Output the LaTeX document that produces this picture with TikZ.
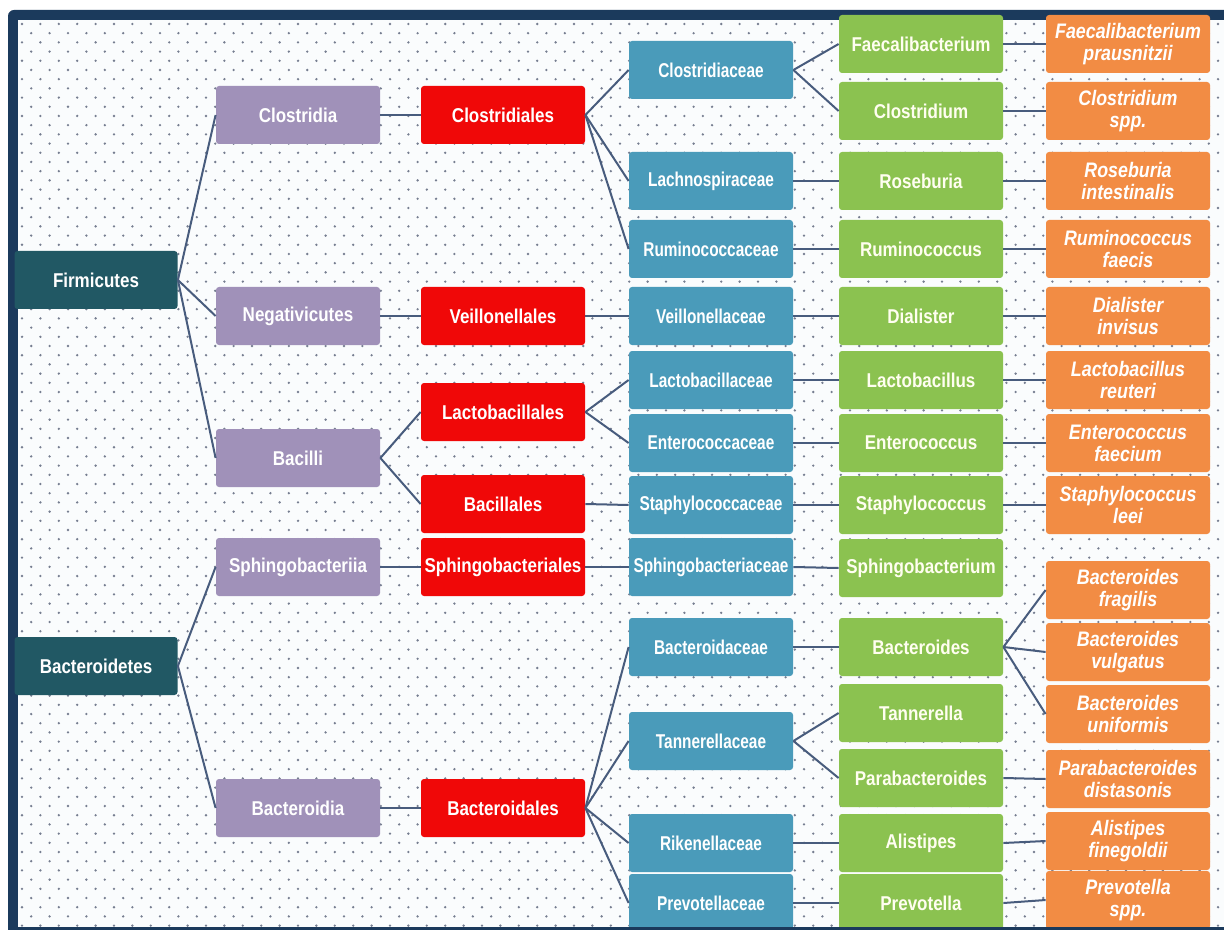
\documentclass[tikz,border=0pt]{standalone}
\usepackage{fontspec}
\newfontfamily\boxfont{Liberation Sans}[FakeStretch=0.85]
\newfontfamily\narrowfont{Liberation Sans}[FakeStretch=0.77]
\definecolor{myframe}{RGB}{27,58,92}
\definecolor{mybg}{RGB}{250,252,253}
\definecolor{mydot}{RGB}{118,126,144}
\definecolor{myline}{RGB}{72,92,125}
\definecolor{myphylum}{RGB}{33,88,100}
\definecolor{myclass}{RGB}{160,145,185}
\definecolor{myorder}{RGB}{240,8,8}
\definecolor{myfamily}{RGB}{74,155,186}
\definecolor{mygenus}{RGB}{139,194,80}
\definecolor{myspecies}{RGB}{242,140,68}

\begin{document}
\begin{tikzpicture}[x=0.5pt, y=-0.5pt,
  taxbox/.style={rounded corners=1.5pt, minimum width=82pt, minimum height=29pt,
    inner sep=1pt, text=white, align=center,
    font=\boxfont\bfseries\fontsize{10}{10.5}\selectfont},
  phylum/.style={taxbox, fill=myphylum, minimum width=81.5pt},
  class/.style={taxbox, fill=myclass},
  order/.style={taxbox, fill=myorder},
  family/.style={taxbox, fill=myfamily,
    font=\narrowfont\bfseries\fontsize{10}{10.5}\selectfont},
  genus/.style={taxbox, fill=mygenus, text=white!94!yellow},
  species/.style={taxbox, fill=myspecies,
    font=\boxfont\bfseries\itshape\fontsize{10.5}{11}\selectfont},
  link/.style={myline, line width=1pt}]

\useasboundingbox (0,0) rectangle (1224,930);
\clip (0,0) rectangle (1224,930);

% frame and dotted background
\fill[white] (0,0) rectangle (1224,930);
\fill[myframe, rounded corners=3pt] (8,10) rectangle (1240,945);
\fill[mybg] (18,20) rectangle (1230,927);
\foreach \j in {0,...,98}{
  \pgfmathsetmacro\dx{mod(\j,2)*9.2}
  \fill[mydot] foreach \i in {0,...,65} {(22+\dx+18.4*\i, 24+9.2*\j) circle (0.65pt)};
}

% phylum
\node[phylum] (firm) at (96,280) {Firmicutes};
\node[phylum] (bactp) at (96,666) {Bacteroidetes};

% class
\node[class] (clos) at (298,115) {Clostridia};
\node[class] (nega) at (298,316) {Negativicutes};
\node[class] (baci) at (298,458) {Bacilli};
\node[class] (sphi) at (298,567) {Sphingobacteriia};
\node[class] (bactc) at (298,808) {Bacteroidia};

% order
\node[order] (closo) at (503,115) {Clostridiales};
\node[order] (veilo) at (503,316) {Veillonellales};
\node[order] (lacto) at (503,412) {Lactobacillales};
\node[order] (bacio) at (503,504) {Bacillales};
\node[order] (sphio) at (503,567) {Sphingobacteriales};
\node[order] (bacto) at (503,808) {Bacteroidales};

% family
\node[family] (closf) at (711,70) {Clostridiaceae};
\node[family] (lachf) at (711,181) {Lachnospiraceae};
\node[family] (rumf) at (711,249) {Ruminococcaceae};
\node[family] (veilf) at (711,316) {Veillonellaceae};
\node[family] (lactf) at (711,380) {Lactobacillaceae};
\node[family] (entf) at (711,443) {Enterococcaceae};
\node[family] (stapf) at (711,505) {Staphylococcaceae};
\node[family] (sphif) at (711,567) {Sphingobacteriaceae};
\node[family] (bactf) at (711,647) {Bacteroidaceae};
\node[family] (tanf) at (711,741) {Tannerellaceae};
\node[family] (rikf) at (711,843) {Rikenellaceae};
\node[family] (prevf) at (711,903) {Prevotellaceae};

% genus
\node[genus] (faeg) at (921,44) {Faecalibacterium};
\node[genus] (closg) at (921,111) {Clostridium};
\node[genus] (roseg) at (921,181) {Roseburia};
\node[genus] (rumg) at (921,249) {Ruminococcus};
\node[genus] (dialg) at (921,316) {Dialister};
\node[genus] (lactg) at (921,380) {Lactobacillus};
\node[genus] (entg) at (921,443) {Enterococcus};
\node[genus] (stapg) at (921,505) {Staphylococcus};
\node[genus] (sphig) at (921,568) {Sphingobacterium};
\node[genus] (bactg) at (921,647) {Bacteroides};
\node[genus] (tang) at (921,713) {Tannerella};
\node[genus] (parag) at (921,778) {Parabacteroides};
\node[genus] (alisg) at (921,843) {Alistipes};
\node[genus] (prevg) at (921,903) {Prevotella};

% species
\node[species] (faes) at (1128,44) {Faecalibacterium\\prausnitzii};
\node[species] (closs) at (1128,111) {Clostridium\\spp.};
\node[species] (roses) at (1128,181) {Roseburia\\intestinalis};
\node[species] (rums) at (1128,249) {Ruminococcus\\faecis};
\node[species] (dials) at (1128,316) {Dialister\\invisus};
\node[species] (lacts) at (1128,380) {Lactobacillus\\reuteri};
\node[species] (ents) at (1128,443) {Enterococcus\\faecium};
\node[species] (staps) at (1128,505) {Staphylococcus\\leei};
\node[species] (bfra) at (1128,590) {Bacteroides\\fragilis};
\node[species] (bvul) at (1128,652) {Bacteroides\\vulgatus};
\node[species] (buni) at (1128,714) {Bacteroides\\uniformis};
\node[species] (paras) at (1128,779) {Parabacteroides\\distasonis};
\node[species] (aliss) at (1128,841) {Alistipes\\finegoldii};
\node[species] (prevs) at (1128,900) {Prevotella\\spp.};

% links
\foreach \a/\b in {firm/clos, firm/nega, firm/baci, bactp/sphi, bactp/bactc,
  clos/closo, nega/veilo, baci/lacto, baci/bacio, sphi/sphio, bactc/bacto,
  closo/closf, closo/lachf, closo/rumf, veilo/veilf, lacto/lactf, lacto/entf,
  bacio/stapf, sphio/sphif, bacto/bactf, bacto/tanf, bacto/rikf, bacto/prevf,
  closf/faeg, closf/closg, lachf/roseg, rumf/rumg, veilf/dialg, lactf/lactg,
  entf/entg, stapf/stapg, sphif/sphig, bactf/bactg, tanf/tang, tanf/parag,
  rikf/alisg, prevf/prevg,
  faeg/faes, closg/closs, roseg/roses, rumg/rums, dialg/dials, lactg/lacts,
  entg/ents, stapg/staps, bactg/bfra, bactg/bvul, bactg/buni, parag/paras,
  alisg/aliss, prevg/prevs}{
  \draw[link] (\a.east) -- (\b.west);
}

% bottom edge of the frame
\fill[myframe] (8,927) rectangle (1224,930);

\end{tikzpicture}
\end{document}
